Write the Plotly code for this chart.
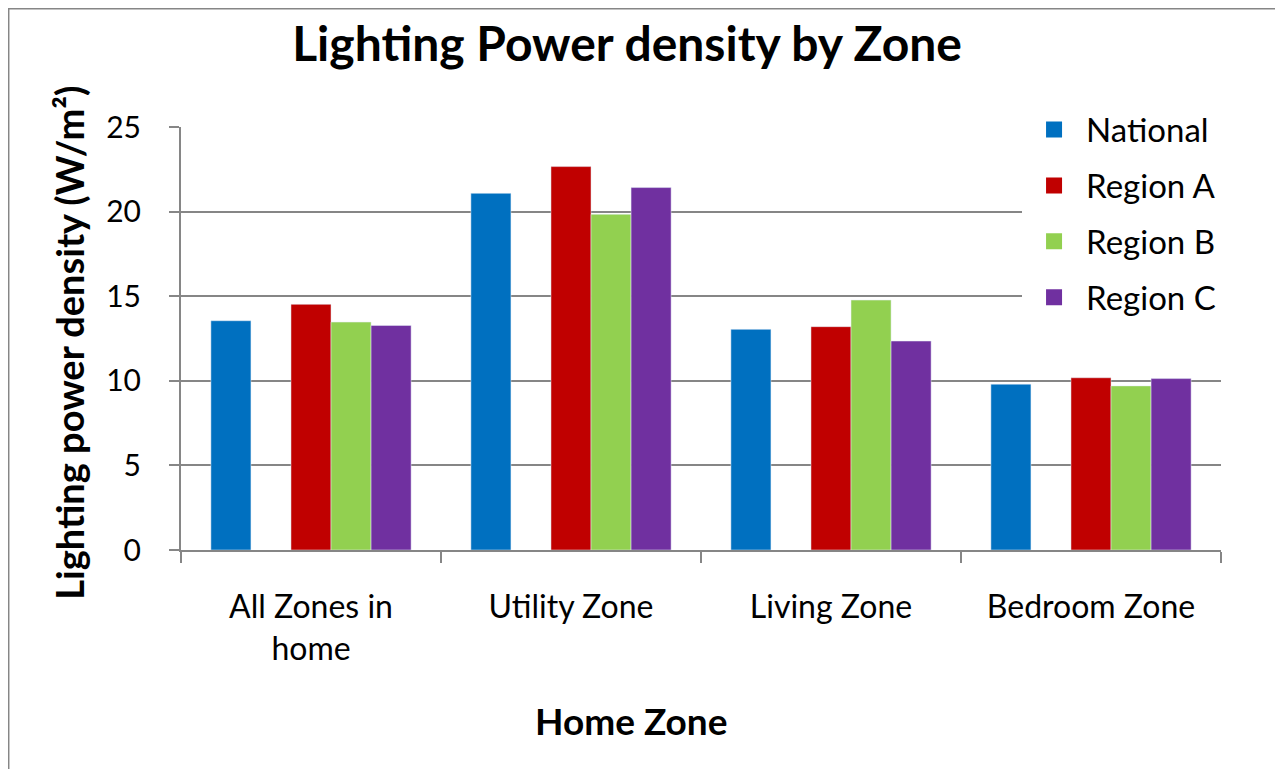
import plotly.graph_objects as go

zones = ['All Zones in<br>home', 'Utility Zone', 'Living Zone', 'Bedroom Zone']
series = ['National', 'Region A', 'Region B', 'Region C']
national = [13.55, 21.08, 13.04, 9.8]
region_a = [14.52, 22.66, 13.2, 10.18]
region_b = [13.47, 19.84, 14.77, 9.7]
region_c = [13.27, 21.42, 12.35, 10.13]
colors = ['#0070C0', '#C00000', '#92D050', '#7030A0']

font = 'Lato'
grey = '#868686'

fig = go.Figure()
values = [national, region_a, region_b, region_c]
for k, (name, vals, col) in enumerate(zip(series, values, colors)):
    fig.add_trace(go.Bar(x=zones, y=vals, name=name, marker_color=col, showlegend=False))
    if k == 0:
        # empty slot between National and the regions, as in the original chart
        fig.add_trace(go.Bar(x=zones, y=[None] * len(zones), showlegend=False, hoverinfo='skip'))
# legend entries (bigger square keys than the bar legend gives)
for name, col in zip(series, colors):
    fig.add_trace(go.Scatter(x=[zones[0]], y=[None], name=name, mode='markers',
                             marker=dict(symbol='square', size=16, color=col),
                             legendgroup=name, hoverinfo='skip'))

# page has an 8px body margin, so the plot area is placed 8px up/left
fig.update_layout(
    width=1283, height=769,
    margin=dict(l=173, r=70, t=119, b=227),
    paper_bgcolor='white', plot_bgcolor='white',
    barmode='group', bargap=0.23, bargroupgap=0,
    font=dict(family=font, size=30, color='black'),
    title=dict(text='<b>Lighting Power density by Zone</b>', x=0.4825, xanchor='center',
               y=0.9525, yanchor='middle', font=dict(size=48, family=font)),
    legend=dict(x=0.8087, xanchor='left', y=1.06, yanchor='top', bgcolor='white',
                font=dict(size=33), itemwidth=54, itemsizing='trace',
                tracegroupgap=10, traceorder='grouped'),
    showlegend=True,
)
fig.update_xaxes(
    showline=True, linecolor=grey, linewidth=2, ticks='outside', tickson='boundaries',
    ticklen=11, tickcolor=grey, tickwidth=2, tickfont=dict(size=32), ticklabelstandoff=28,
)
fig.update_yaxes(
    range=[0, 25], dtick=5, showline=True, linecolor=grey, linewidth=2,
    showgrid=True, gridcolor=grey, gridwidth=2, ticks='outside', ticklen=10,
    tickcolor=grey, tickwidth=2, tickfont=dict(size=30), ticklabelstandoff=22,
    zeroline=False,
)

fig.add_annotation(text='<b>Home Zone</b>', xref='paper', yref='paper', x=0.4327, y=-0.402,
                   showarrow=False, font=dict(size=37), xanchor='center', yanchor='middle')
fig.add_annotation(text='<b>Lighting power density (W/m²)</b>', xref='paper', yref='paper',
                   x=-0.1077, y=0.49, textangle=-90, showarrow=False, font=dict(size=38),
                   xanchor='center', yanchor='middle')

# outer chart border
fig.add_shape(type='rect', xref='paper', yref='paper',
              x0=-0.1659, x1=1.0558, y0=-0.61, y1=1.2801,
              line=dict(color=grey, width=2), fillcolor='rgba(0,0,0,0)', layer='below')

fig.write_html('out.html')
